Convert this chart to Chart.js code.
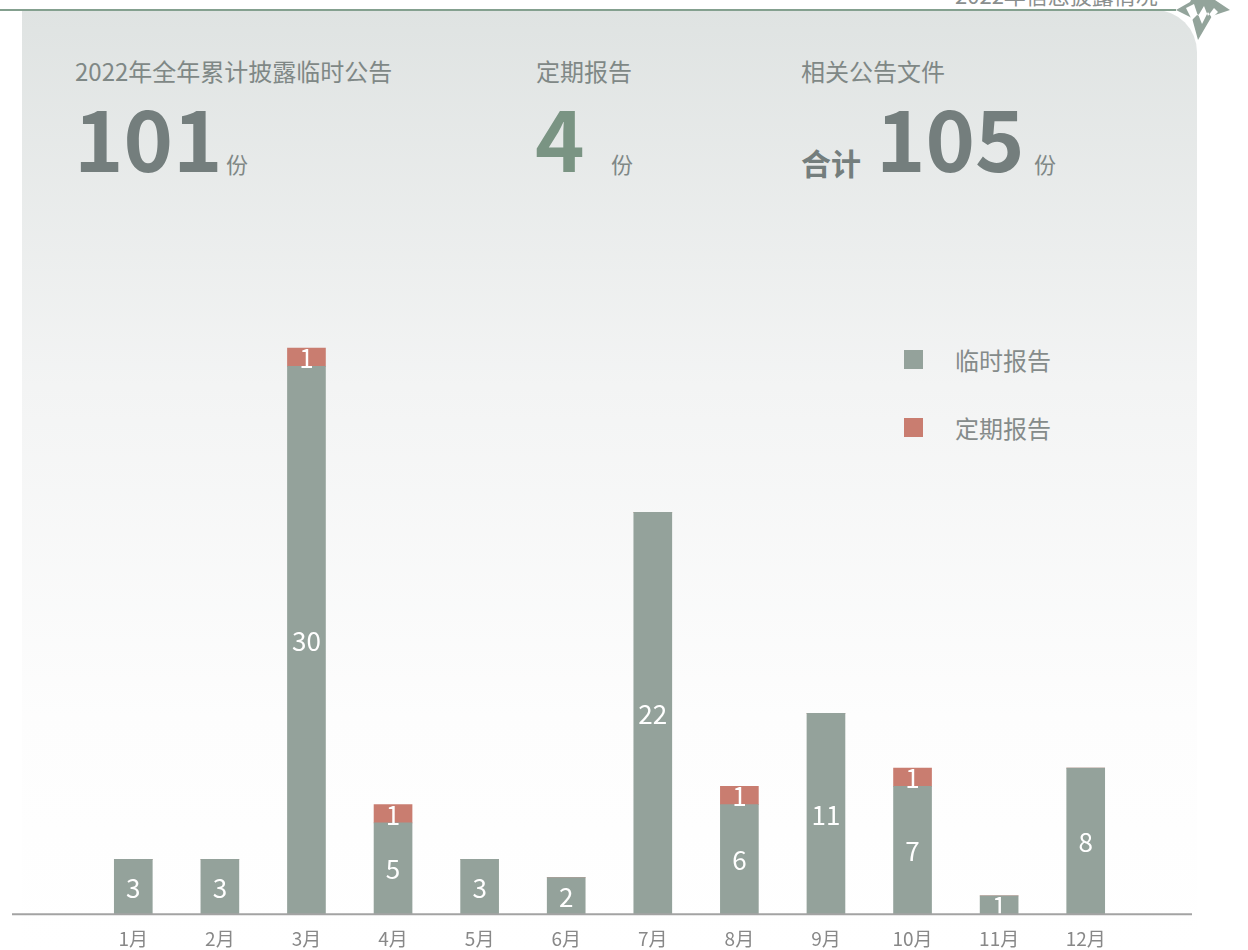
<!DOCTYPE html>
<html>
<head>
<meta charset="utf-8">
<script src="https://cdn.jsdelivr.net/npm/chart.js@4.4.0/dist/chart.umd.min.js"></script>
<style>
  body { margin: 0; width: 1248px; height: 950px; background: #fff; overflow: hidden; position: relative;
    font-family: "Noto Sans CJK SC", "Noto Sans", sans-serif; }
  .card { position: absolute; left: 22px; top: 10px; width: 1175px; height: 940px;
    border-top-right-radius: 42px;
    background: linear-gradient(to bottom, #dfe3e2 0%, #f3f4f4 40%, #fdfdfd 75%, #ffffff 100%); }
  .topline { position: absolute; left: 0; top: 9px; width: 1176px; height: 2px; background: #84a08f; }
  .title { position: absolute; left: 955px; top: -22px; font-size: 22px; color: #8a8f8e; }
  .logo { position: absolute; left: 1172px; top: -14px; }
  .stat { position: absolute; color: #7b8583; }
  .cap { font-size: 24px; color: #7f8886; }
  .big { font-weight: 700; font-size: 84px; line-height: 1; color: #747e7d; }
  .unit { font-size: 22px; color: #7f8886; }
  .legend { position: absolute; left: 904px; top: 344px; }
  .legend div { display: flex; align-items: center; height: 30px; margin-bottom: 38px; font-size: 24px; color: #858b8a; }
  .legend span.sw { width: 19px; height: 19px; margin-right: 32px; }
  #wrap { position: absolute; left: 12px; top: 275px; width: 1180px; height: 688px; }
</style>
</head>
<body>
<div class="card"></div>
<div class="topline"></div>
<div class="title">2022年信息披露情况</div>
<svg class="logo" width="64" height="60" viewBox="0 0 64 60">
  <path d="M26 0 L40 12 L58 24 L40 30 L26 54 L20 32 L4 24 L18 16 Z" fill="#93a49b"/>
  <path d="M14 22 L22 18 L26 30 L32 20 L36 30 L42 22 L46 26 L40 32 L36 26 L30 38 L26 28 L20 34 Z" fill="#ffffff"/>
</svg>

<div class="stat" style="left:75px;top:53px;"><div class="cap">2022年全年累计披露临时公告</div></div>
<div class="stat" style="left:74px;top:94px;"><span class="big">101</span></div>
<div class="stat" style="left:226px;top:147px;"><span class="unit">份</span></div>

<div class="stat" style="left:536px;top:53px;"><div class="cap">定期报告</div></div>
<div class="stat" style="left:535px;top:94px;"><span class="big" style="color:#7a9483">4</span></div>
<div class="stat" style="left:611px;top:147px;"><span class="unit">份</span></div>

<div class="stat" style="left:801px;top:53px;"><div class="cap">相关公告文件</div></div>
<div class="stat" style="left:801px;top:140px;"><span style="font-size:30px;font-weight:700;color:#747e7d">合计</span></div>
<div class="stat" style="left:876px;top:94px;"><span class="big">105</span></div>
<div class="stat" style="left:1034px;top:147px;"><span class="unit">份</span></div>

<div class="legend" id="legend"></div>
<div id="wrap"><canvas id="chart"></canvas></div>

<script>
var months = ['1月', '2月', '3月', '4月', '5月', '6月', '7月', '8月', '9月', '10月', '11月', '12月'];
var tempReports = [3, 3, 30, 5, 3, 2, 22, 6, 11, 7, 1, 8];
var periodicReports = [0, 0, 1, 1, 0, 0, 0, 1, 0, 1, 0, 0];
var seriesNames = ['临时报告', '定期报告'];
var seriesColors = ['#94a29b', '#c97d70'];

// white numbers in the middle of each segment
var valueLabels = {
  id: 'valueLabels',
  afterDatasetsDraw: function(chart) {
    var ctx = chart.ctx;
    ctx.save();
    ctx.fillStyle = '#ffffff';
    ctx.font = '26px "Noto Sans CJK SC", sans-serif';
    ctx.textAlign = 'center';
    ctx.textBaseline = 'middle';
    chart.data.datasets.forEach(function(dataset, i) {
      chart.getDatasetMeta(i).data.forEach(function(bar, j) {
        var v = dataset.data[j];
        if (!v) return;
        ctx.fillText(v, bar.x, (bar.y + bar.base) / 2 + 1);
      });
    });
    ctx.restore();
  }
};

// axis line runs the full width of the canvas
var baseLine = {
  id: 'baseLine',
  afterDraw: function(chart) {
    var ctx = chart.ctx;
    var y = chart.chartArea.bottom;
    ctx.save();
    ctx.strokeStyle = '#a3a3a3';
    ctx.lineWidth = 2;
    ctx.beginPath();
    ctx.moveTo(0, y);
    ctx.lineTo(chart.width, y);
    ctx.stroke();
    ctx.restore();
  }
};

var legend = document.getElementById('legend');
seriesNames.forEach(function(name, i) {
  var row = document.createElement('div');
  row.innerHTML = '<span class="sw" style="background:' + seriesColors[i] + '"></span>' + name;
  legend.appendChild(row);
});

var ctx = document.getElementById('chart').getContext('2d');
var chart = new Chart(ctx, {
  type: 'bar',
  data: {
    labels: months,
    datasets: [{
        label: seriesNames[0],
        data: tempReports,
        backgroundColor: seriesColors[0]
      },
      {
        label: seriesNames[1],
        data: periodicReports,
        backgroundColor: seriesColors[1]
      }
    ]
  },
  options: {
    responsive: true,
    maintainAspectRatio: false,
    animation: false,
    layout: {
      padding: { left: 78, right: 63, top: 0, bottom: 0 }
    },
    plugins: {
      legend: { display: false },
      tooltip: { enabled: false }
    },
    datasets: {
      bar: { barThickness: 38 }
    },
    scales: {
      x: {
        stacked: true,
        grid: { display: false, drawTicks: false },
        border: { display: false },
        ticks: {
          color: '#888888',
          padding: 13,
          font: { size: 19, family: '"Noto Sans CJK SC", sans-serif' }
        }
      },
      y: {
        stacked: true,
        display: false,
        min: 0,
        max: 35
      }
    }
  },
  plugins: [valueLabels, baseLine]
});
</script>
</body>
</html>
